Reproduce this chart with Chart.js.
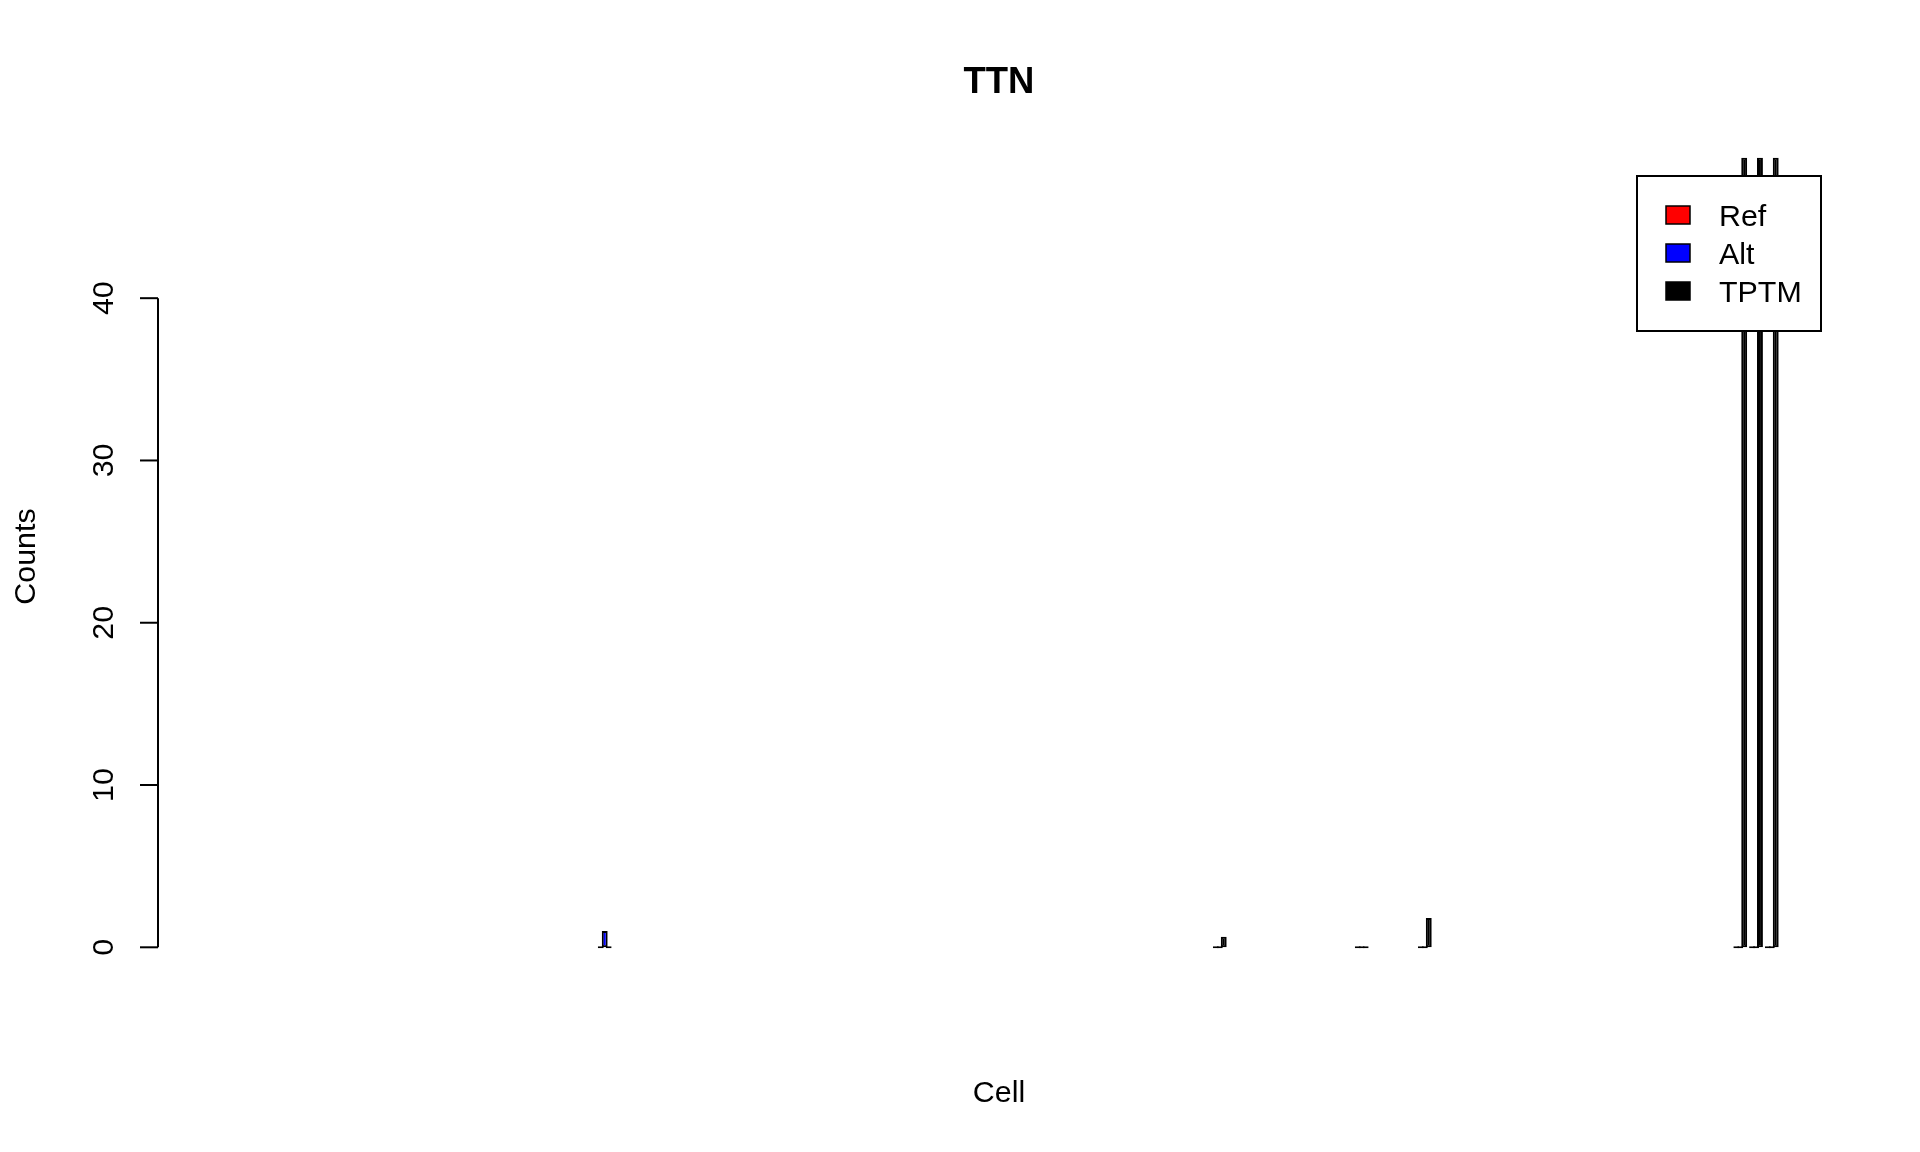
<!DOCTYPE html>
<html>
<head>
<meta charset="utf-8">
<script src="https://cdn.jsdelivr.net/npm/chart.js@4.4.1/dist/chart.umd.min.js"></script>
<style>
html,body{margin:0;padding:0;background:#fff;}
canvas{display:block;}
</style>
</head>
<body>
<canvas id="c" width="1920" height="1152"></canvas>
<script>
// ---- chart data ----
const chartTitle = 'TTN';
const xAxisLabel = 'Cell';
const yAxisLabel = 'Counts';
const seriesNames = ['Ref', 'Alt', 'TPTM'];
const seriesColors = ['#FF0000', '#0000FF', '#000000'];
const yTickValues = [0, 10, 20, 30, 40];

const cells = [
   1,  2,  3,  4,  5,  6,  7,  8,  9, 10,
  11, 12, 13, 14, 15, 16, 17, 18, 19, 20,
  21, 22, 23, 24, 25, 26, 27, 28, 29, 30,
  31, 32, 33, 34, 35, 36, 37, 38, 39, 40,
  41, 42, 43, 44, 45, 46, 47, 48, 49, 50,
  51, 52, 53, 54, 55, 56, 57, 58, 59, 60,
  61, 62, 63, 64, 65, 66, 67, 68, 69, 70,
  71, 72, 73, 74, 75, 76, 77, 78, 79, 80,
  81, 82, 83, 84, 85, 86, 87, 88, 89, 90,
  91, 92, 93, 94, 95, 96, 97, 98, 99
];

const _ = null; // no value for this cell
const refCounts = [
  _, _, _, _, _, _, _, _, _, _,
  _, _, _, _, _, _, _, _, _, _,
  _, _, _, _, 0, _, _, _, _, _,
  _, _, _, _, _, _, _, _, _, _,
  _, _, _, _, _, _, _, _, _, _,
  _, _, _, _, _, _, _, _, _, _,
  _, _, _, 0, _, _, _, _, _, _,
  _, _, 0, _, _, _, 0, _, _, _,
  _, _, _, _, _, _, _, _, _, _,
  _, _, _, _, _, _, 0, 0, 0
];
const altCounts = [
  _, _, _, _, _, _, _, _, _, _,
  _, _, _, _, _, _, _, _, _, _,
  _, _, _, _, 1, _, _, _, _, _,
  _, _, _, _, _, _, _, _, _, _,
  _, _, _, _, _, _, _, _, _, _,
  _, _, _, _, _, _, _, _, _, _,
  _, _, _, 0, _, _, _, _, _, _,
  _, _, 0, _, _, _, 0, _, _, _,
  _, _, _, _, _, _, _, _, _, _,
  _, _, _, _, _, _, 0, 0, 0
];
const tptmCounts = [
  _, _, _, _, _, _, _, _, _, _,
  _, _, _, _, _, _, _, _, _, _,
  _, _, _, _, 0, _, _, _, _, _,
  _, _, _, _, _, _, _, _, _, _,
  _, _, _, _, _, _, _, _, _, _,
  _, _, _, _, _, _, _, _, _, _,
  _, _, _, 0.65, _, _, _, _, _, _,
  _, _, 0, _, _, _, 1.8, _, _, _,
  _, _, _, _, _, _, _, _, _, _,
  _, _, _, _, _, _, 48.65, 48.65, 48.65
];

// ---- build chart ----
const seriesValues = [refCounts, altCounts, tptmCounts];
const FONT = '"Liberation Sans", Arial, Helvetica, sans-serif';
const BASE_PX = 30.4;

const datasets = seriesNames.map((name, s) => ({
  label: name,
  data: cells.map((c, i) => ({ x: c, y: seriesValues[s][i] })),
  backgroundColor: seriesColors[s],
  borderColor: '#000000'
}));

const rDecor = {
  id: 'rDecor',
  afterDatasetsDraw(chart) {
    const ctx = chart.ctx;
    const area = chart.chartArea;
    const ys = chart.scales.y;
    ctx.save();
    ctx.fillStyle = '#000';
    ctx.strokeStyle = '#000';
    ctx.lineCap = 'butt';

    // y axis line and ticks (R style: axis spans first to last tick)
    const ticks = ys.ticks;
    const axX = area.left;
    ctx.lineWidth = 2;
    ctx.beginPath();
    ctx.moveTo(axX, ys.getPixelForValue(ticks[0].value));
    ctx.lineTo(axX, ys.getPixelForValue(ticks[ticks.length - 1].value));
    ctx.stroke();
    ctx.font = BASE_PX + 'px ' + FONT;
    ctx.textAlign = 'center';
    ctx.textBaseline = 'alphabetic';
    ticks.forEach(t => {
      const py = ys.getPixelForValue(t.value);
      ctx.beginPath();
      ctx.moveTo(axX, py);
      ctx.lineTo(axX - 18, py);
      ctx.stroke();
      ctx.save();
      ctx.translate(axX - 45, py);
      ctx.rotate(-Math.PI / 2);
      ctx.fillText(String(t.value), 0, 0);
      ctx.restore();
    });

    // axis titles
    const cx = (area.left + area.right) / 2;
    const cy = (area.top + area.bottom) / 2;
    ctx.fillText(xAxisLabel, cx, 1102);
    ctx.save();
    ctx.translate(35, cy);
    ctx.rotate(-Math.PI / 2);
    ctx.fillText(yAxisLabel, 0, 0);
    ctx.restore();

    // main title
    ctx.font = 'bold ' + (BASE_PX * 1.2) + 'px ' + FONT;
    ctx.fillText(chartTitle, cx, 92.5);

    // legend (top right)
    const lx = 1637, ly = 176, lw = 184, lh = 155;
    ctx.fillStyle = '#fff';
    ctx.fillRect(lx, ly, lw, lh);
    ctx.lineWidth = 2;
    ctx.strokeRect(lx, ly, lw, lh);
    ctx.font = BASE_PX + 'px ' + FONT;
    ctx.textAlign = 'left';
    chart.data.datasets.forEach((ds, i) => {
      const rowY = ly + 30 + i * 38;
      ctx.fillStyle = ds.backgroundColor;
      ctx.fillRect(lx + 29, rowY, 24, 18);
      ctx.lineWidth = 1.5;
      ctx.strokeStyle = '#000';
      ctx.strokeRect(lx + 29, rowY, 24, 18);
      ctx.fillStyle = '#000';
      ctx.fillText(ds.label, lx + 82, rowY + 20);
    });
    ctx.restore();
  }
};

new Chart(document.getElementById('c'), {
  type: 'bar',
  data: { datasets },
  options: {
    responsive: false,
    animation: false,
    devicePixelRatio: 1,
    layout: { padding: { left: 158, right: 80, top: 157, bottom: 196 } },
    datasets: {
      bar: {
        categoryPercentage: 0.75,
        barPercentage: 1.5,
        borderWidth: 2,
        borderSkipped: false,
        minBarLength: 2
      }
    },
    plugins: {
      legend: { display: false },
      title: { display: false },
      tooltip: { enabled: false }
    },
    scales: {
      x: {
        type: 'linear',
        display: false,
        offset: false,
        min: -3.325,
        max: 103.325,
        ticks: { stepSize: 25 }
      },
      y: {
        display: false,
        min: -0.536,
        max: 48.7,
        afterBuildTicks: s => { s.ticks = yTickValues.map(v => ({ value: v })); }
      }
    }
  },
  plugins: [rDecor]
});
</script>
</body>
</html>
